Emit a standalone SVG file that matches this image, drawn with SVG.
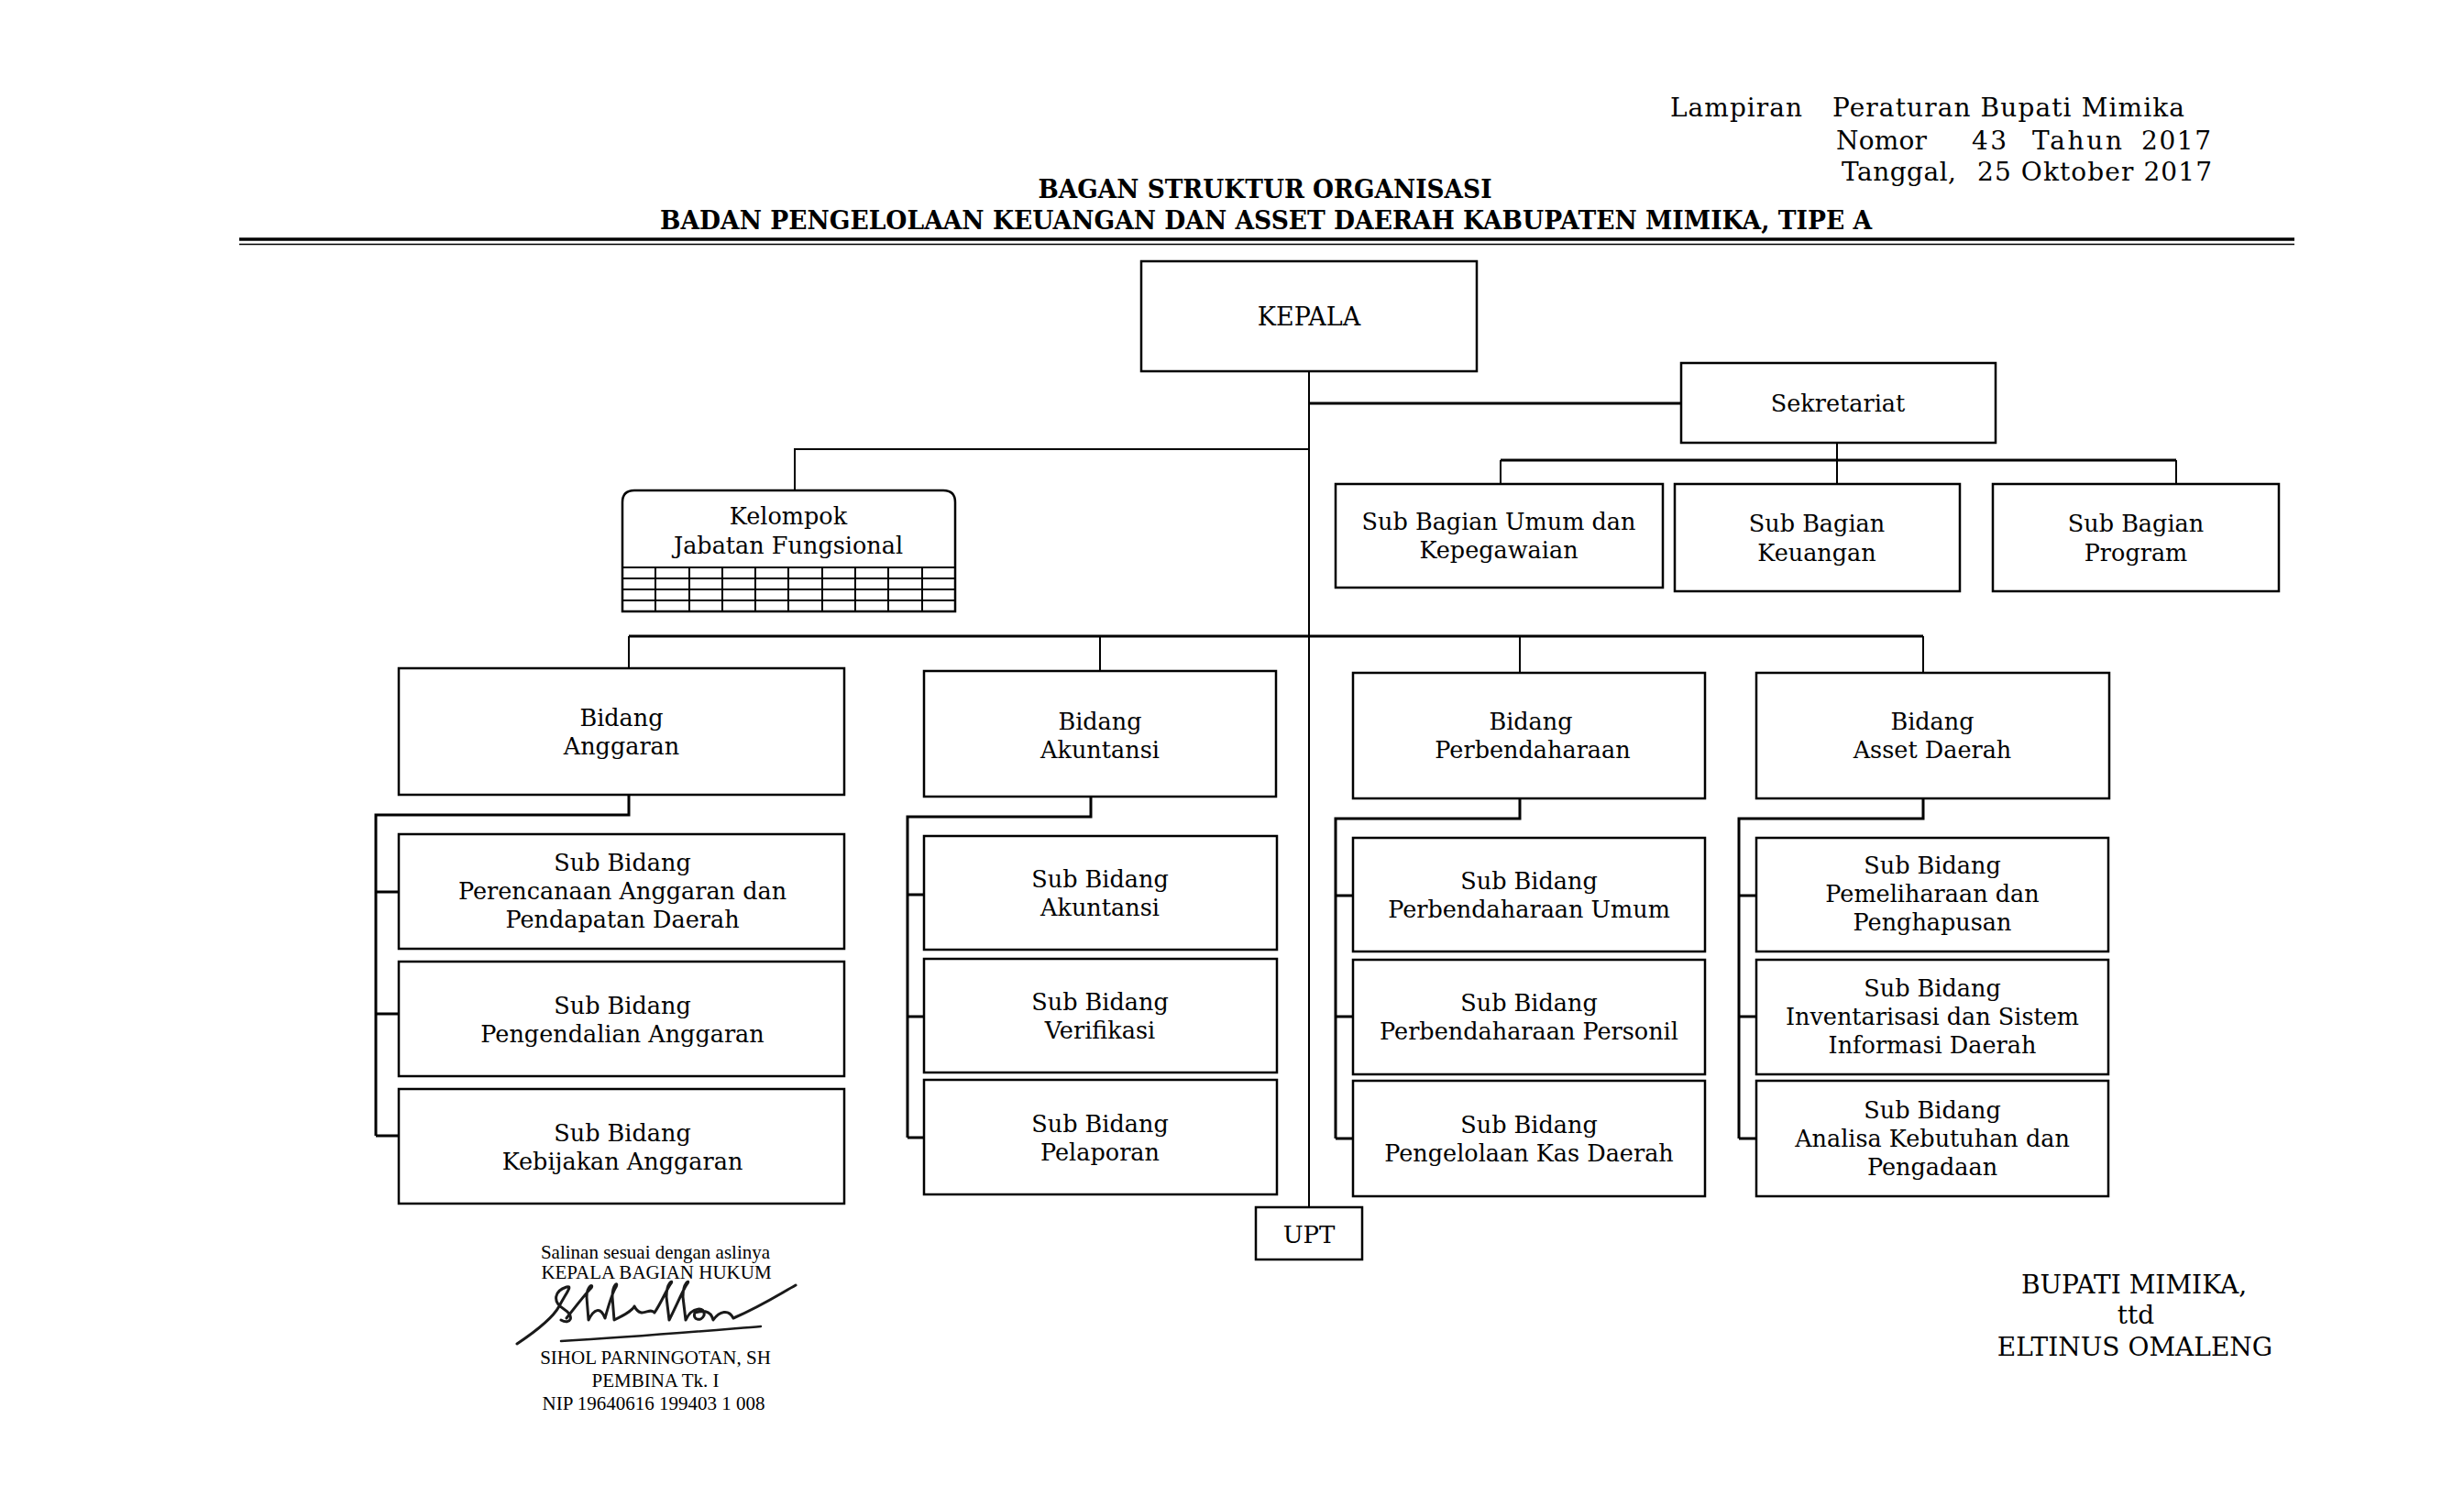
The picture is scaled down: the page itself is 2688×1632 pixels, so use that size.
<svg xmlns="http://www.w3.org/2000/svg" width="2688" height="1632" viewBox="0 0 2688 1632">
<style>
.box{fill:#fff;stroke:#000;stroke-width:2.5}
.ln{fill:none;stroke:#000;stroke-width:2}
.lb{fill:none;stroke:#000;stroke-width:3}
.t{font-family:"DejaVu Serif",serif;font-size:25.5px;text-anchor:middle;fill:#000}
.h{font-family:"DejaVu Serif",serif;font-size:28px;fill:#000}
.ti{font-family:"DejaVu Serif",serif;font-size:27px;font-weight:bold;text-anchor:middle;fill:#000}
.tm{font-family:"Liberation Serif",serif;font-size:21px;text-anchor:middle;fill:#000}
.bp{font-family:"DejaVu Serif",serif;font-size:28px;text-anchor:middle;fill:#000}
</style>
<rect width="2688" height="1632" fill="#fff"/>
<g id="header">
<text class="h" x="1822" y="127" textLength="144" lengthAdjust="spacing">Lampiran</text>
<text class="h" x="1999" y="127" textLength="384" lengthAdjust="spacing">Peraturan Bupati Mimika</text>
<text class="h" x="2003" y="163" textLength="99" lengthAdjust="spacing">Nomor</text>
<text class="h" x="2151" y="163" textLength="38" lengthAdjust="spacing">43</text>
<text class="h" x="2217" y="163" textLength="98" lengthAdjust="spacing">Tahun</text>
<text class="h" x="2336" y="163" textLength="76" lengthAdjust="spacing">2017</text>
<text class="h" x="2009" y="197" textLength="125" lengthAdjust="spacing">Tanggal,</text>
<text class="h" x="2157" y="197" textLength="256" lengthAdjust="spacing">25 Oktober 2017</text>
<text class="ti" x="1380" y="216" textLength="495" lengthAdjust="spacingAndGlyphs">BAGAN STRUKTUR ORGANISASI</text>
<text class="ti" x="1381" y="250" textLength="1322" lengthAdjust="spacingAndGlyphs">BADAN PENGELOLAAN KEUANGAN DAN ASSET DAERAH KABUPATEN MIMIKA, TIPE A</text>
<line x1="261" y1="261" x2="2503" y2="261" stroke="#000" stroke-width="3.5"/>
<line x1="261" y1="266.5" x2="2503" y2="266.5" stroke="#000" stroke-width="1.5"/>
</g>
<g id="connectors">
<path class="ln" d="M1428 405V1317"/>
<path class="lb" d="M1428 440H1834"/>
<path class="ln" d="M2004 483V528M1637 502V528M2374 502V528"/>
<path class="lb" d="M1637 502H2374"/>
<path class="ln" d="M1428 490H867V535"/>
<path class="lb" d="M686 694H2098"/>
<path class="ln" d="M686 694V729M1200 694V732M1658 694V734M2098 694V734"/>
<path class="lb" d="M686 867V889H410V1239M410 973H435M410 1106H435M410 1239H435"/>
<path class="lb" d="M1190 869V891H990V1241M990 976H1008M990 1109H1008M990 1241H1008"/>
<path class="lb" d="M1658 871V893H1457V1242M1457 977H1476M1457 1109H1476M1457 1242H1476"/>
<path class="lb" d="M2098 871V893H1897V1242M1897 977H1916M1897 1109H1916M1897 1242H1916"/>
</g>
<g id="kepala"><rect class="box" x="1245" y="285" width="366" height="120"/><text class="t" style="font-size:27px" x="1428" y="355">KEPALA</text></g>
<g id="sekretariat"><rect class="box" x="1834" y="396" width="343" height="87"/><text class="t" x="2005" y="449">Sekretariat</text></g>
<g id="sub-umum"><rect class="box" x="1457" y="528" width="357" height="113"/><text class="t" x="1635" y="578">Sub Bagian Umum dan</text><text class="t" x="1635" y="609">Kepegawaian</text></g>
<g id="sub-keuangan"><rect class="box" x="1827" y="528" width="311" height="117"/><text class="t" x="1982" y="580">Sub Bagian</text><text class="t" x="1982" y="612">Keuangan</text></g>
<g id="sub-program"><rect class="box" x="2174" y="528" width="312" height="117"/><text class="t" x="2330" y="580">Sub Bagian</text><text class="t" x="2330" y="612">Program</text></g>
<g id="kelompok">
<path class="box" d="M679 667V548Q679 535 692 535H1029Q1042 535 1042 548V667Z"/>
<path class="ln" d="M679 619H1042M679 631H1042M679 643H1042M679 655H1042M715 619V667M752 619V667M788 619V667M824 619V667M860 619V667M897 619V667M933 619V667M969 619V667M1006 619V667"/>
<text class="t" x="860" y="572">Kelompok</text><text class="t" x="860" y="604">Jabatan Fungsional</text>
</g>
<g id="bidang-anggaran"><rect class="box" x="435" y="729" width="486" height="138"/><text class="t" x="678" y="792">Bidang</text><text class="t" x="678" y="823">Anggaran</text></g>
<g id="bidang-akuntansi"><rect class="box" x="1008" y="732" width="384" height="137"/><text class="t" x="1200" y="796">Bidang</text><text class="t" x="1200" y="827">Akuntansi</text></g>
<g id="bidang-perbendaharaan"><rect class="box" x="1476" y="734" width="384" height="137"/><text class="t" x="1670" y="796">Bidang</text><text class="t" x="1672" y="827">Perbendaharaan</text></g>
<g id="bidang-asset"><rect class="box" x="1916" y="734" width="385" height="137"/><text class="t" x="2108" y="796">Bidang</text><text class="t" x="2108" y="827">Asset Daerah</text></g>
<g id="sb-perencanaan"><rect class="box" x="435" y="910" width="486" height="125"/><text class="t" x="679" y="950">Sub Bidang</text><text class="t" x="679" y="981">Perencanaan Anggaran dan</text><text class="t" x="679" y="1012">Pendapatan Daerah</text></g>
<g id="sb-pengendalian"><rect class="box" x="435" y="1049" width="486" height="125"/><text class="t" x="679" y="1106">Sub Bidang</text><text class="t" x="679" y="1137">Pengendalian Anggaran</text></g>
<g id="sb-kebijakan"><rect class="box" x="435" y="1188" width="486" height="125"/><text class="t" x="679" y="1245">Sub Bidang</text><text class="t" x="679" y="1276">Kebijakan Anggaran</text></g>
<g id="sb-akuntansi"><rect class="box" x="1008" y="912" width="385" height="124"/><text class="t" x="1200" y="968">Sub Bidang</text><text class="t" x="1200" y="999">Akuntansi</text></g>
<g id="sb-verifikasi"><rect class="box" x="1008" y="1046" width="385" height="124"/><text class="t" x="1200" y="1102">Sub Bidang</text><text class="t" x="1200" y="1133">Verifikasi</text></g>
<g id="sb-pelaporan"><rect class="box" x="1008" y="1178" width="385" height="125"/><text class="t" x="1200" y="1235">Sub Bidang</text><text class="t" x="1200" y="1266">Pelaporan</text></g>
<g id="sb-perb-umum"><rect class="box" x="1476" y="914" width="384" height="124"/><text class="t" x="1668" y="970">Sub Bidang</text><text class="t" x="1668" y="1001">Perbendaharaan Umum</text></g>
<g id="sb-perb-personil"><rect class="box" x="1476" y="1047" width="384" height="125"/><text class="t" x="1668" y="1103">Sub Bidang</text><text class="t" x="1668" y="1134">Perbendaharaan Personil</text></g>
<g id="sb-kas"><rect class="box" x="1476" y="1179" width="384" height="126"/><text class="t" x="1668" y="1236">Sub Bidang</text><text class="t" x="1668" y="1267">Pengelolaan Kas Daerah</text></g>
<g id="sb-pemeliharaan"><rect class="box" x="1916" y="914" width="384" height="124"/><text class="t" x="2108" y="953">Sub Bidang</text><text class="t" x="2108" y="984">Pemeliharaan dan</text><text class="t" x="2108" y="1015">Penghapusan</text></g>
<g id="sb-inventarisasi"><rect class="box" x="1916" y="1047" width="384" height="125"/><text class="t" x="2108" y="1087">Sub Bidang</text><text class="t" x="2108" y="1118">Inventarisasi dan Sistem</text><text class="t" x="2108" y="1149">Informasi Daerah</text></g>
<g id="sb-analisa"><rect class="box" x="1916" y="1179" width="384" height="126"/><text class="t" x="2108" y="1220">Sub Bidang</text><text class="t" x="2108" y="1251">Analisa Kebutuhan dan</text><text class="t" x="2108" y="1282">Pengadaan</text></g>
<g id="upt"><rect class="box" x="1370" y="1317" width="116" height="57"/><text class="t" style="font-size:26px" x="1428" y="1356">UPT</text></g>
<g id="pengesahan-kiri">
<text class="tm" x="715" y="1373">Salinan sesuai dengan aslinya</text>
<text class="tm" x="716" y="1395">KEPALA BAGIAN HUKUM</text>
<path fill="none" stroke="#1a1a1a" stroke-width="3" stroke-linecap="round" stroke-linejoin="round" d="M564 1466C585 1452 603 1438 610 1425C618 1410 625 1402 618 1404C605 1408 602 1420 615 1428C628 1436 622 1446 612 1440M618 1438C632 1420 640 1410 645 1405C648 1400 640 1402 640 1415L642 1440C648 1428 655 1425 660 1438C665 1420 668 1410 672 1404C675 1398 668 1400 668 1415L670 1440C680 1435 690 1430 692 1425C700 1440 708 1425 714 1432C722 1420 728 1405 732 1400C735 1396 727 1398 727 1415L730 1440C740 1420 746 1405 750 1400C753 1396 745 1398 745 1415L748 1440C755 1425 770 1425 768 1435C765 1442 755 1440 758 1432C765 1430 775 1428 778 1440C785 1430 795 1428 800 1438C830 1425 850 1412 868 1402"/>
<path fill="none" stroke="#1a1a1a" stroke-width="2.5" stroke-linecap="round" d="M612 1463C700 1458 780 1451 830 1447"/>
<text class="tm" x="715" y="1488">SIHOL PARNINGOTAN, SH</text>
<text class="tm" x="715" y="1513">PEMBINA Tk. I</text>
<text class="tm" x="713" y="1538">NIP 19640616 199403 1 008</text>
</g>
<g id="pengesahan-kanan">
<text class="bp" x="2328" y="1411">BUPATI MIMIKA,</text>
<text class="bp" x="2330" y="1444">ttd</text>
<text class="bp" x="2329" y="1479">ELTINUS OMALENG</text>
</g>
</svg>
